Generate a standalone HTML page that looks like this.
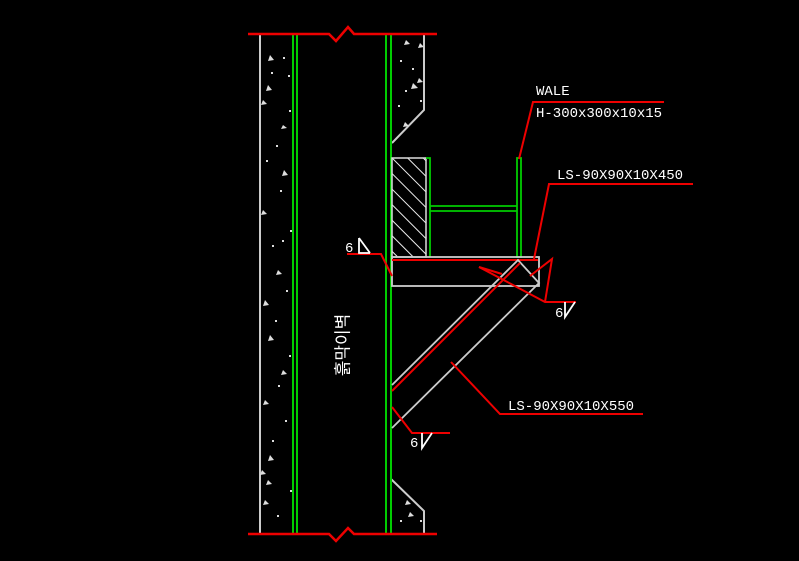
<!DOCTYPE html>
<html><head><meta charset="utf-8"><style>
html,body{margin:0;padding:0;background:#000;}
svg{display:block}
text{font-family:"Liberation Mono","Noto Sans CJK KR",monospace;fill:#fff;}
</style></head><body>
<svg width="799" height="561" viewBox="0 0 799 561" xmlns="http://www.w3.org/2000/svg">
<rect width="799" height="561" fill="#000"/>
<defs>
<pattern id="hatch" width="11" height="11" patternUnits="userSpaceOnUse" patternTransform="rotate(-45)">
<line x1="0" y1="0" x2="0" y2="11" stroke="#eee" stroke-width="2"/>
</pattern>
</defs>
<!-- concrete left -->
<line x1="260" y1="34" x2="260" y2="534" stroke="#ccc" stroke-width="2"/>
<g fill="#ddd">
<polygon points="270,55 274,60 268,61"/><polygon points="268,85 272,90 266,91"/><polygon points="263,100 267,104 261,105"/>
<polygon points="283,125 287,128 281,129"/><polygon points="284,170 288,175 282,176"/><polygon points="263,210 267,214 261,215"/>
<polygon points="278,270 282,274 276,275"/><polygon points="265,300 269,305 263,306"/><polygon points="270,335 274,340 268,341"/>
<polygon points="283,370 287,374 281,375"/><polygon points="265,400 269,404 263,405"/><polygon points="270,455 274,460 268,461"/>
<polygon points="262,470 266,474 260,475"/><polygon points="268,480 272,484 266,485"/><polygon points="265,500 269,504 263,505"/>
<rect x="283" y="57" width="2" height="2"/><rect x="271" y="72" width="2" height="2"/><rect x="289" y="110" width="2" height="2"/>
<rect x="276" y="145" width="2" height="2"/><rect x="280" y="190" width="2" height="2"/><rect x="290" y="230" width="2" height="2"/>
<rect x="272" y="245" width="2" height="2"/><rect x="286" y="290" width="2" height="2"/><rect x="275" y="320" width="2" height="2"/>
<rect x="289" y="355" width="2" height="2"/><rect x="278" y="385" width="2" height="2"/><rect x="285" y="420" width="2" height="2"/>
<rect x="272" y="440" width="2" height="2"/><rect x="290" y="490" width="2" height="2"/><rect x="277" y="515" width="2" height="2"/>
<rect x="282" y="240" width="2" height="2"/><rect x="266" y="160" width="2" height="2"/><rect x="288" y="75" width="2" height="2"/>
</g>
<!-- right concrete -->
<polyline points="424,34 424,110 392,143" fill="none" stroke="#ccc" stroke-width="2"/>
<polyline points="391,479 424,511 424,534" fill="none" stroke="#ccc" stroke-width="2"/>
<g fill="#ddd">
<polygon points="406,40 410,44 404,45"/><polygon points="420,43 424,47 418,48"/><polygon points="413,83 418,88 411,89"/>
<polygon points="419,78 423,82 417,83"/><polygon points="405,122 409,126 403,127"/><polygon points="407,500 411,504 405,505"/>
<polygon points="410,512 414,516 408,517"/>
<rect x="400" y="60" width="2" height="2"/><rect x="412" y="68" width="2" height="2"/><rect x="420" y="100" width="2" height="2"/>
<rect x="398" y="105" width="2" height="2"/><rect x="405" y="90" width="2" height="2"/><rect x="420" y="520" width="2" height="2"/>
<rect x="400" y="520" width="2" height="2"/>
</g>
<!-- green sheet lines -->
<g stroke="#0c0" stroke-width="2">
<line x1="293" y1="34" x2="293" y2="534"/><line x1="297" y1="34" x2="297" y2="534"/>
<line x1="386" y1="34" x2="386" y2="534"/><line x1="391" y1="34" x2="391" y2="534"/>
</g>
<!-- red break lines -->
<polyline points="248,34 329,34 336,41 348,27 354,34 437,34" fill="none" stroke="#e00" stroke-width="2.5"/>
<polyline points="248,534 329,534 336,541 348,528 354,534 437,534" fill="none" stroke="#e00" stroke-width="2.5"/>
<!-- hatched block -->
<rect x="392" y="158" width="34" height="99" fill="url(#hatch)" stroke="#ddd" stroke-width="1.5"/>
<!-- H beam -->
<g stroke="#0c0" stroke-width="1.8" fill="none">
<polyline points="426,158 430,158 430,257"/>
<line x1="430" y1="206" x2="517" y2="206"/><line x1="430" y1="211" x2="517" y2="211"/>
<rect x="517" y="158" width="4" height="99"/>
</g>
<!-- plate -->
<rect x="392" y="257" width="147" height="29" fill="none" stroke="#ccc" stroke-width="1.8"/>
<line x1="392" y1="260" x2="538" y2="260" stroke="#e00" stroke-width="2"/>
<!-- brace -->
<g stroke="#ccc" stroke-width="1.8" fill="none">
<polyline points="392,385 518,260 539,283 392,428"/>
</g>
<line x1="392" y1="391" x2="520" y2="263" stroke="#e00" stroke-width="2"/>
<!-- leaders -->
<g stroke="#e00" stroke-width="2" fill="none">
<polyline points="519,159 533,102 664,102"/>
<polyline points="534,259 549,184 693,184"/>
<polyline points="347,254 381,254 392,276"/>
<polyline points="479,267 545,302 576,302"/>
<polyline points="479,267 502,274"/>
<polyline points="545,302 552,259 530,276"/>
<polyline points="451,362 500,414 643,414"/>
<polyline points="392,407 412,433 450,433"/>
</g>
<!-- weld symbols -->
<g stroke="#fff" stroke-width="1.8" fill="none">
<polyline points="359,238 359,253 370,253"/><line x1="359" y1="238" x2="370" y2="253"/>
<polyline points="565,302 565,317 575,302"/>
<polyline points="422,433 422,448 432,433"/>
</g>
<text x="345" y="252" font-size="14">6</text>
<text x="555" y="317" font-size="14">6</text>
<text x="410" y="447" font-size="14">6</text>
<text x="536" y="95" font-size="14">WALE</text>
<text x="536" y="117" font-size="14">H-300x300x10x15</text>
<text x="557" y="179" font-size="14">LS-90X90X10X450</text>
<text x="508" y="410" font-size="14">LS-90X90X10X550</text>
<text transform="translate(344,345) rotate(-90)" font-size="17" text-anchor="middle" dominant-baseline="middle">흙막이벽</text>
</svg>
</body></html>
